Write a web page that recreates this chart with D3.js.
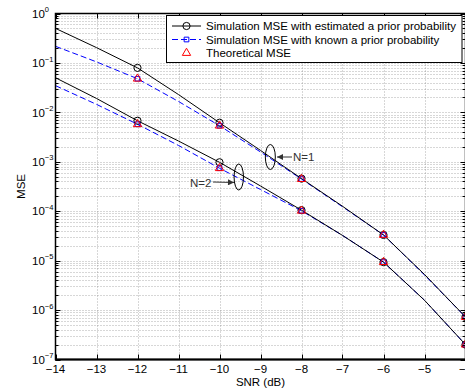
<!DOCTYPE html>
<html lang="en">
<head>
    <meta charset="UTF-8">
    <title>MSE vs SNR</title>
    <script src="https://cdn.jsdelivr.net/npm/d3@7/dist/d3.min.js"></script>
    <style>
        body { margin: 0; background: #fff; }
        text { font-family: "Liberation Sans", Arial, sans-serif; }
    </style>
</head>
<body>
<script>

    // SNR points of the curves and of the markers
    var snrLine = [-14, -13, -12, -11, -10, -9, -8, -7, -6, -5, -4];
    var snrMark = [-12, -10, -8, -6, -4];

    // N=1 curves
    var n1Est   = [0.50, 0.204, 0.0794, 0.0229, 6.17e-3, 1.70e-3, 4.57e-4, 1.26e-4, 3.31e-5, 5.25e-6, 7.24e-7];
    var n1Known = [0.217, 0.105, 0.0479, 0.0166, 5.37e-3, 1.58e-3, 4.47e-4, 1.23e-4, 3.31e-5, 5.13e-6, 7.24e-7];
    // N=2 curves
    var n2Est   = [0.0501, 0.0191, 6.76e-3, 2.63e-3, 9.77e-4, 3.24e-4, 1.05e-4, 3.24e-5, 9.33e-6, 1.58e-6, 2.0e-7];
    var n2Known = [0.0347, 0.0145, 5.75e-3, 2.14e-3, 7.41e-4, 2.75e-4, 1.02e-4, 3.24e-5, 9.33e-6, 1.58e-6, 2.0e-7];

    // marker values (at snrMark)
    var n1EstMark   = [0.0794, 6.17e-3, 4.57e-4, 3.31e-5, 7.24e-7];
    var n1KnownMark = [0.0479, 5.37e-3, 4.47e-4, 3.31e-5, 7.24e-7];
    var n1Theory    = [0.0479, 5.37e-3, 4.47e-4, 3.31e-5, 7.24e-7];
    var n2EstMark   = [6.76e-3, 9.77e-4, 1.05e-4, 9.33e-6, 2.0e-7];
    var n2KnownMark = [5.75e-3, 7.41e-4, 1.02e-4, 9.33e-6, 2.0e-7];
    var n2Theory    = [5.75e-3, 7.41e-4, 1.02e-4, 9.33e-6, 2.0e-7];

    var xTicks = [-14, -13, -12, -11, -10, -9, -8, -7, -6, -5, -4];
    var yExps = [0, -1, -2, -3, -4, -5, -6, -7];
    var legendLabels = [
        "Simulation MSE with estimated a prior probability",
        "Simulation MSE with known a prior probability",
        "Theoretical MSE"
    ];

    // 画布
    var width = 465, height = 389;
    var pLeft = 55.5, pRight = 465.5, pTop = 13.5, pBottom = 359.5;

    var svg = d3.select("body").append("svg")
        .attr("width", width)
        .attr("height", height);

    var x = d3.scaleLinear().domain([-14, -4]).range([pLeft, pRight]);
    var y = d3.scaleLog().domain([1e-7, 1]).range([pBottom, pTop]);

    svg.append("clipPath").attr("id", "plotclip")
        .append("rect")
        .attr("x", pLeft).attr("y", pTop)
        .attr("width", pRight - pLeft).attr("height", pBottom - pTop);

    // 网格
    var minorY = [];
    yExps.forEach(function (e) {
        if (e === 0) return;
        for (var k = 2; k <= 9; k++) minorY.push(k * Math.pow(10, e));
    });
    var majorY = yExps.map(function (e) { return Math.pow(10, e); });

    var grid = svg.append("g").attr("stroke", "#7a7a7a").attr("stroke-width", 0.6)
        .attr("stroke-dasharray", "1,2");
    grid.selectAll("line.gx").data(xTicks.slice(1, -1)).enter().append("line")
        .attr("x1", function (d) { return Math.round(x(d)) + 0.5; })
        .attr("x2", function (d) { return Math.round(x(d)) + 0.5; })
        .attr("y1", pTop).attr("y2", pBottom);
    grid.selectAll("line.gy").data(majorY.slice(1, -1).concat(minorY)).enter().append("line")
        .attr("x1", pLeft).attr("x2", pRight)
        .attr("y1", function (d) { return Math.round(y(d)) + 0.5; })
        .attr("y2", function (d) { return Math.round(y(d)) + 0.5; });

    // 曲线
    var line = d3.line()
        .x(function (d) { return x(d[0]); })
        .y(function (d) { return y(d[1]); });

    var plot = svg.append("g").attr("clip-path", "url(#plotclip)");

    function drawCurve(vals, color, dash) {
        plot.append("path")
            .datum(d3.zip(snrLine, vals))
            .attr("d", line)
            .attr("fill", "none")
            .attr("stroke", color)
            .attr("stroke-width", 1)
            .attr("stroke-dasharray", dash);
    }
    drawCurve(n1Known, "#0000ff", "6,3");
    drawCurve(n2Known, "#0000ff", "6,3");
    drawCurve(n1Est, "#000", null);
    drawCurve(n2Est, "#000", null);

    // 标记
    var tri = d3.symbol().type(d3.symbolTriangle).size(30);
    var sq = d3.symbol().type(d3.symbolSquare).size(22);

    function drawCircles(vals) {
        plot.selectAll(null).data(d3.zip(snrMark, vals)).enter().append("circle")
            .attr("cx", function (d) { return x(d[0]); })
            .attr("cy", function (d) { return y(d[1]); })
            .attr("r", 3.6)
            .attr("fill", "none").attr("stroke", "#000").attr("stroke-width", 1);
    }
    function drawSymbols(vals, sym, color) {
        plot.selectAll(null).data(d3.zip(snrMark, vals)).enter().append("path")
            .attr("d", sym)
            .attr("transform", function (d) { return "translate(" + x(d[0]) + "," + y(d[1]) + ")"; })
            .attr("fill", "none").attr("stroke", color).attr("stroke-width", 1);
    }
    drawCircles(n1EstMark);
    drawCircles(n2EstMark);
    drawSymbols(n1KnownMark, sq, "#0000ff");
    drawSymbols(n2KnownMark, sq, "#0000ff");
    drawSymbols(n1Theory, tri, "#ff0000");
    drawSymbols(n2Theory, tri, "#ff0000");

    // 坐标轴框和刻度
    var ax = svg.append("g").attr("stroke", "#000").attr("fill", "none");
    ax.append("rect").attr("x", pLeft).attr("y", pTop)
        .attr("width", pRight - pLeft).attr("height", pBottom - pTop)
        .attr("stroke-width", 1.5);
    ax.append("line").attr("x1", pLeft - 0.5).attr("x2", pRight).attr("y1", pBottom).attr("y2", pBottom)
        .attr("stroke-width", 2);

    xTicks.forEach(function (t) {
        var px = Math.round(x(t)) + 0.5;
        ax.append("line").attr("x1", px).attr("x2", px).attr("y1", pBottom).attr("y2", pBottom - 5);
        ax.append("line").attr("x1", px).attr("x2", px).attr("y1", pTop).attr("y2", pTop + 5);
    });
    majorY.forEach(function (v) {
        var py = Math.round(y(v)) + 0.5;
        ax.append("line").attr("x1", pLeft).attr("x2", pLeft + 5).attr("y1", py).attr("y2", py);
        ax.append("line").attr("x1", pRight).attr("x2", pRight - 5).attr("y1", py).attr("y2", py);
    });
    minorY.forEach(function (v) {
        var py = Math.round(y(v)) + 0.5;
        ax.append("line").attr("x1", pLeft).attr("x2", pLeft + 3).attr("y1", py).attr("y2", py);
        ax.append("line").attr("x1", pRight).attr("x2", pRight - 3).attr("y1", py).attr("y2", py);
    });

    // 刻度标签
    var fmt = d3.format("d");
    svg.append("g").selectAll("text").data(xTicks).enter().append("text")
        .attr("x", function (d) { return x(d); })
        .attr("y", 373)
        .attr("text-anchor", "middle")
        .attr("font-size", "11.5px")
        .text(function (d) { return fmt(d); });

    var yl = svg.append("g").selectAll("text").data(yExps).enter().append("text")
        .attr("x", 32)
        .attr("y", function (d) { return y(Math.pow(10, d)) + 4.2; })
        .attr("font-size", "11.5px");
    yl.append("tspan").text("10");
    yl.append("tspan")
        .attr("dy", -5.5)
        .attr("font-size", "7.5px")
        .text(function (d) { return d === 0 ? "0" : "\u2212" + (-d); });

    svg.append("text")
        .attr("x", (pLeft + pRight) / 2).attr("y", 386)
        .attr("text-anchor", "middle").attr("font-size", "11.5px")
        .text("SNR (dB)");
    svg.append("text")
        .attr("transform", "translate(25," + ((pTop + pBottom) / 2) + ") rotate(-90)")
        .attr("text-anchor", "middle").attr("font-size", "11.5px")
        .text("MSE");

    // 注释
    var defs = svg.append("defs");
    defs.append("marker").attr("id", "arr")
        .attr("viewBox", "0 0 10 10").attr("refX", 10).attr("refY", 5)
        .attr("markerWidth", 7).attr("markerHeight", 6).attr("orient", "auto")
        .attr("markerUnits", "userSpaceOnUse")
        .append("path").attr("d", "M0,0L10,5L0,10z").attr("fill", "#333");

    var ann = svg.append("g");
    ann.append("ellipse").attr("cx", x(-8.76)).attr("cy", 157).attr("rx", 5).attr("ry", 12.5)
        .attr("fill", "none").attr("stroke", "#000");
    ann.append("line").attr("x1", 292).attr("y1", 157).attr("x2", 277).attr("y2", 157)
        .attr("stroke", "#333").attr("marker-end", "url(#arr)");
    ann.append("text").attr("x", 293).attr("y", 161).attr("font-size", "11.5px").attr("fill", "#333")
        .text("N=1");

    ann.append("ellipse").attr("cx", x(-9.53)).attr("cy", 177).attr("rx", 4.7).attr("ry", 13)
        .attr("fill", "none").attr("stroke", "#000");
    ann.append("line").attr("x1", 213).attr("y1", 182).attr("x2", 234).attr("y2", 182.5)
        .attr("stroke", "#333").attr("marker-end", "url(#arr)");
    ann.append("text").attr("x", 190).attr("y", 186.5).attr("font-size", "11.5px").attr("fill", "#333")
        .text("N=2");

    // 图例
    var lg = svg.append("g");
    lg.append("rect").attr("x", 166.5).attr("y", 15.5).attr("width", 295.5).attr("height", 47)
        .attr("fill", "#fff").attr("stroke", "#000");
    var rows = [26, 39.5, 53];
    var lx1 = 172, lx2 = 201, lmx = (lx1 + lx2) / 2;
    lg.append("line").attr("x1", lx1).attr("x2", lx2).attr("y1", rows[0]).attr("y2", rows[0]).attr("stroke", "#000");
    lg.append("circle").attr("cx", lmx).attr("cy", rows[0]).attr("r", 3.6).attr("fill", "none").attr("stroke", "#000");
    lg.append("line").attr("x1", lx1).attr("x2", lx2).attr("y1", rows[1]).attr("y2", rows[1])
        .attr("stroke", "#0000ff").attr("stroke-dasharray", "6,3");
    lg.append("path").attr("d", sq).attr("transform", "translate(" + lmx + "," + rows[1] + ")")
        .attr("fill", "none").attr("stroke", "#0000ff");
    lg.append("path").attr("d", tri).attr("transform", "translate(" + lmx + "," + rows[2] + ")")
        .attr("fill", "none").attr("stroke", "#ff0000");
    lg.selectAll("text.lt").data(legendLabels).enter().append("text")
        .attr("x", 206)
        .attr("y", function (d, i) { return rows[i] + 4; })
        .attr("font-size", "11.5px")
        .text(function (d) { return d; });

</script>
</body>
</html>
